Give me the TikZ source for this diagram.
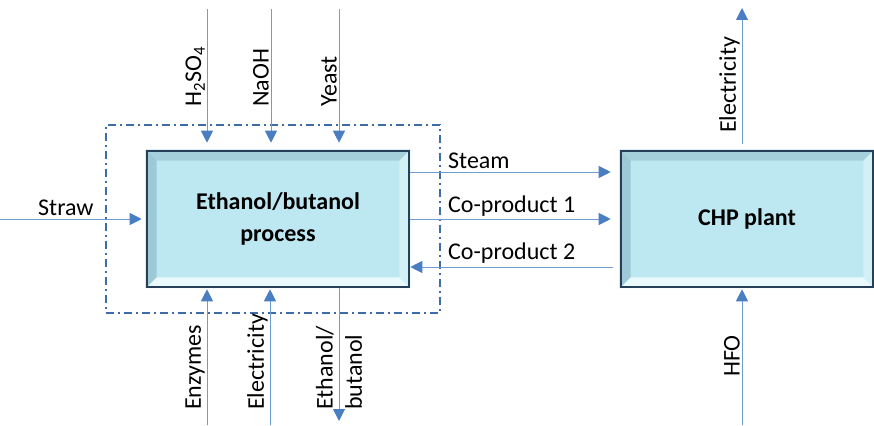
\documentclass[tikz,border=0pt]{standalone}
\usepackage{fontspec}
\setmainfont{Carlito}
\usetikzlibrary{arrows.meta,calc,backgrounds}
\definecolor{arr}{HTML}{4A7EC2}
\definecolor{arrl}{HTML}{6F9BD6}
\definecolor{grpc}{HTML}{3E6CA8}
\definecolor{boxb}{HTML}{26405A}
\definecolor{face}{HTML}{BDE8F1}
\definecolor{bevt}{HTML}{A3D0DB}
\definecolor{bevl}{HTML}{9CC9D5}
\definecolor{bevb}{HTML}{EAF9FC}
\definecolor{bevr}{HTML}{D3F0F6}
\tikzset{
  procbox/.style={draw=boxb, line width=2.6pt, align=center, font=\fontsize{24}{32}\selectfont\bfseries, inner sep=0pt},
  grpbox/.style={draw=grpc, line width=1.4pt, dash pattern=on 8pt off 4pt on 2pt off 4pt, inner sep=0pt},
  flow/.style={draw=arrl, line width=1pt, -{Triangle[length=12pt,width=12pt,fill=arr,color=arr]}},
  lbl/.style={font=\fontsize{24}{26}\selectfont, inner sep=2pt, text=black},
  vlbl/.style={lbl, rotate=90, anchor=south west},
}
\newcommand\bevelbox[1]{%
  \fill[face] (#1.north west) rectangle (#1.south east);
  \fill[bevt] (#1.north west) -- (#1.north east) -- ($(#1.north east)+(-11,11)$) -- ($(#1.north west)+(11,11)$) -- cycle;
  \fill[bevl] (#1.north west) -- ($(#1.north west)+(11,11)$) -- ($(#1.south west)+(11,-11)$) -- (#1.south west) -- cycle;
  \fill[bevb] (#1.south west) -- ($(#1.south west)+(11,-11)$) -- ($(#1.south east)+(-11,-11)$) -- (#1.south east) -- cycle;
  \fill[bevr] (#1.north east) -- ($(#1.north east)+(-11,11)$) -- ($(#1.south east)+(-11,-11)$) -- (#1.south east) -- cycle;
}
\begin{document}
\begin{tikzpicture}[x=1pt,y=-1pt]
\useasboundingbox (0,0) rectangle (874,425);
\node[procbox, minimum width=262pt, minimum height=136pt] (proc) at (278,219) {Ethanol/butanol\\process};
\node[procbox, minimum width=252pt, minimum height=136pt] (chp) at (747,219) {CHP plant};
\begin{scope}[on background layer]
\bevelbox{proc}
\bevelbox{chp}
\end{scope}
\node[grpbox, minimum width=334pt, minimum height=188pt] (grp) at (273,219) {};

% top inputs
\coordinate (h2in) at (207,9);
\coordinate (naoh) at (271,9);
\coordinate (yeast) at (339,9);
\draw[flow, shorten >=7pt] (h2in) -- (h2in |- proc.north);
\draw[flow, shorten >=7pt] (naoh) -- (naoh |- proc.north);
\draw[flow, shorten >=7pt] (yeast) -- (yeast |- proc.north);
\node[vlbl] (lh2) at (207,109) {H\textsubscript{2}SO\textsubscript{4}};
\node[vlbl] (lnaoh) at (271,109) {NaOH};
\node[vlbl] (lyeast) at (339,109) {Yeast};

% bottom
\coordinate (enz) at (207,425);
\coordinate (elin) at (270,425);
\coordinate (ethout) at (339,421);
\draw[flow, shorten >=1pt] (enz) -- (enz |- proc.south);
\draw[flow, shorten >=1pt] (elin) -- (elin |- proc.south);
\draw[flow] (ethout |- proc.south) -- (ethout);
\node[vlbl] (lenz) at (207,412) {Enzymes};
\node[vlbl] (lel) at (270,412) {Electricity};
\node[lbl, rotate=90, anchor=west, align=left, font=\fontsize{24}{29}\selectfont] (leth) at (339,412) {Ethanol/\\butanol};

% straw
\coordinate (straw) at (0,219);
\draw[flow, shorten >=4pt] (straw) -- (straw -| proc.west);
\node[lbl, anchor=south west] (lstraw) at (36,218) {Straw};

% between boxes
\draw[flow, shorten >=9pt] ($(proc.east)+(0,-47)$) -- ($(chp.west)+(0,-47)$);
\draw[flow, shorten >=9pt] (proc.east) -- (chp.west);
\coordinate (cp2s) at (613,267);
\draw[flow] (cp2s) -- (cp2s -| proc.east);
\node[lbl, anchor=south west] (lsteam) at (446,171) {Steam};
\node[lbl, anchor=south west] (lcp1) at (446,219) {Co-product 1};
\node[lbl, anchor=south west] (lcp2) at (446,266) {Co-product 2};

% CHP
\coordinate (chpel) at (742,8);
\coordinate (hfo) at (742,425);
\draw[flow, shorten <=6pt] (chpel |- chp.north) -- (chpel);
\draw[flow, shorten >=1pt] (hfo) -- (hfo |- chp.south);
\node[vlbl] (lchpel) at (742,135) {Electricity};
\node[vlbl] (lhfo) at (742,379) {HFO};
\end{tikzpicture}
\end{document}
